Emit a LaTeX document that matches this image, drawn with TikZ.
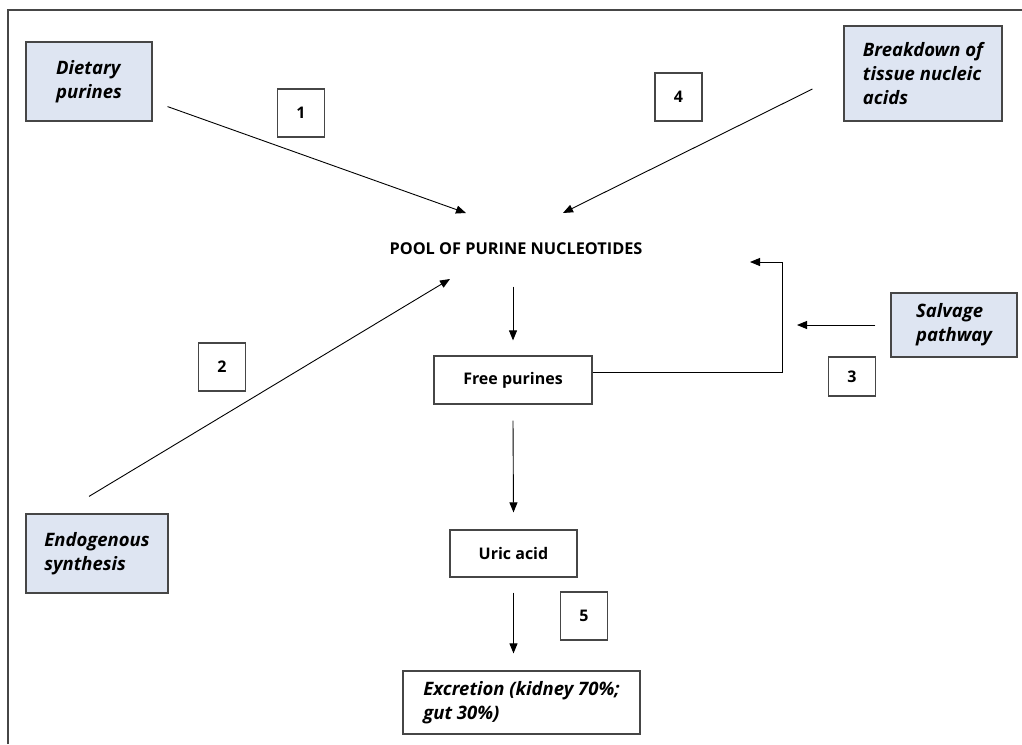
\documentclass[tikz,border=0pt]{standalone}
\usepackage{fontspec}
\setmainfont{Open Sans}
\usetikzlibrary{arrows.meta}
\definecolor{SourceBlue}{RGB}{222,229,242}
\definecolor{FrameGray}{RGB}{70,70,70}
\tikzset{
	src/.style={draw=FrameGray,fill=SourceBlue,line width=1.2pt,align=left,inner sep=0pt,
		font=\fontsize{18.5}{24}\selectfont\bfseries\itshape},
	stage/.style={draw=FrameGray,fill=white,line width=1.2pt,align=left,inner sep=0pt,
		font=\fontsize{16}{20}\selectfont\bfseries},
	num/.style={draw=FrameGray,line width=1.2pt,inner sep=0pt,minimum width=47pt,minimum height=48pt,
		font=\fontsize{16}{18}\selectfont\bfseries},
	flow/.style={draw=black,line width=0.9pt,-{Triangle[length=10pt,width=8pt]}},
}
\begin{document}
\begin{tikzpicture}[x=1pt,y=-1pt]
	\useasboundingbox (0,0) rectangle (1022,744);
	\draw[FrameGray,line width=2pt] (8,744) -- (8,10) -- (1022,10);
	% sources
	\node[src,minimum width=126pt,minimum height=79pt] (diet) at (89,81.5) {Dietary\\purines};
	\node[src,minimum width=158pt,minimum height=95pt] (tissue) at (923,73.5) {Breakdown of\\tissue nucleic\\acids};
	\node[src,minimum width=126pt,minimum height=64pt] (salv) at (954,325) {Salvage\\pathway};
	\node[src,minimum width=142pt,minimum height=79pt] (endo) at (97,553.5) {Endogenous\\synthesis};
	% main chain
	\node[font=\fontsize{16.3}{18}\selectfont\bfseries] (pool) at (516,249) {POOL OF PURINE NUCLEOTIDES};
	\node[stage,minimum width=158pt,minimum height=48pt] (free) at (513,380) {Free purines};
	\node[stage,minimum width=127pt,minimum height=47pt] (uric) at (513.5,553.5) {Uric acid};
	\node[stage,minimum width=237pt,minimum height=63pt,font=\fontsize{18.5}{24}\selectfont\bfseries\itshape]
		(excr) at (521.5,702.5) {Excretion (kidney 70\%;\\gut 30\%)};
	% step numbers
	\node[num] (n1) at (301,113) {1};
	\node[num] (n2) at (222,367) {2};
	\node[num,minimum height=39pt] (n3) at (852,376.5) {3};
	\node[num] (n4) at (678.5,97) {4};
	\node[num] (n5) at (584,616) {5};
	% arrow ends
	\coordinate (in1) at (466,213);
	\coordinate (in2) at (450,279);
	\coordinate (in3) at (750,262);
	\coordinate (in4) at (563,213);
	\coordinate (in5) at (797,325);
	\draw[flow] ([xshift=15pt,yshift=15pt]diet.south east) -- (in1);
	\draw[flow] ([xshift=-31pt]tissue.south west |- n4) ++(0,-8) -- (in4);
	\draw[flow] ([xshift=-8pt,yshift=17pt]endo.north) -- (in2);
	\draw[flow] ([xshift=-15pt]salv.west) -- (in5);
	\draw[flow] ([yshift=8pt]free.east) -- ++(190,0) |- (in3);
	\draw[flow] ([yshift=-28pt]pool.south -| free.north) -- ([yshift=15pt]free.north);
	\draw[flow] ([yshift=-16pt]free.south) -- ([yshift=17pt]uric.north);
	\draw[flow] ([yshift=-15pt]uric.south) -- ([yshift=17pt]excr.north -| uric.south);
\end{tikzpicture}
\end{document}
